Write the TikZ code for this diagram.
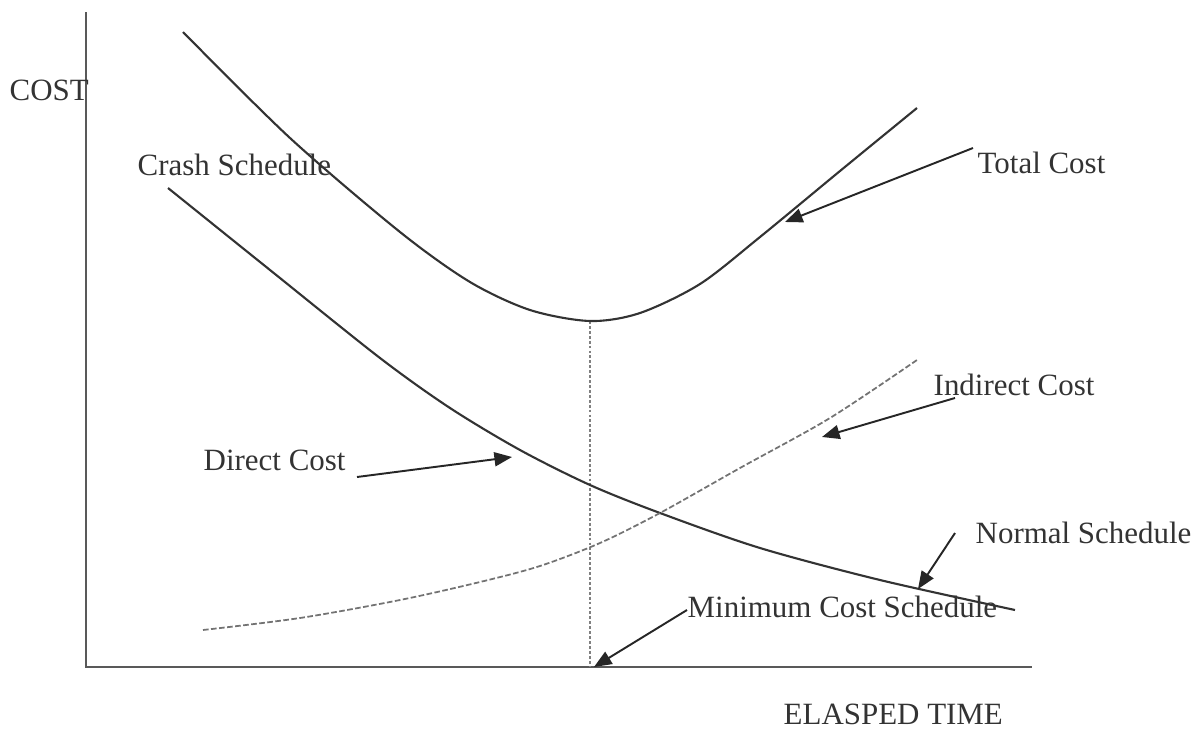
\documentclass[tikz,border=0pt]{standalone}
\usepackage{fontspec}
\setmainfont{Liberation Serif}
\usetikzlibrary{arrows.meta}
\begin{document}
\begin{tikzpicture}[x=0.01cm,y=-0.01cm,
  every node/.style={inner sep=0pt,text=black!80,font=\fontsize{8.8}{10.5}\selectfont},
  axisline/.style={draw=black!65,line width=0.65pt},
  costcurve/.style={draw=black!80,line width=0.6pt},
  indirectcurve/.style={draw=black!55,line width=0.5pt,dash pattern=on 1.6pt off 0.7pt},
  mincostline/.style={draw=black!50,line width=0.5pt,dash pattern=on 0.8pt off 0.6pt},
  pointer/.style={draw=black!85,line width=0.55pt,-{Triangle[length=5pt,width=4pt]}}]
\useasboundingbox (0,0) rectangle (1202,730);

% axes
\coordinate (origin) at (86,667);
\coordinate (ytop) at (86,12);
\coordinate (xend) at (1032,667);
\draw[axisline] (ytop) -- (origin) -- (xend);

% vertical line at the minimum of total cost
\coordinate (tcmin) at (590,321);
\coordinate (tcfoot) at (590,667);
\draw[mincostline] (tcmin) -- (tcfoot);

% total cost curve
\draw[costcurve] plot[smooth] coordinates {(183,32) (290,138) (400,232) (470,282)
  (530,310) (590,321) (640,313) (700,284) (760,237) (840,171) (917,108)};

% direct cost curve
\draw[costcurve] plot[smooth] coordinates {(168,188) (270,270) (380,358) (450,408)
  (520,450) (590,485) (660,513) (760,548) (880,580) (1015,610)};

% indirect cost curve
\draw[indirectcurve] plot[smooth] coordinates {(203,630) (300,618) (400,600) (480,582)
  (540,566) (600,543) (660,513) (740,468) (830,418) (917,360)};

% labels
\node[anchor=west] (costlbl) at (9,90) {COST};
\node[anchor=west] (crash) at (137,165) {Crash Schedule};
\node[anchor=west] (total) at (977,163) {Total Cost};
\node[anchor=west] (indirect) at (933,385) {Indirect Cost};
\node[anchor=west] (direct) at (203,460) {Direct Cost};
\node[anchor=west] (normal) at (975,533) {Normal Schedule};
\node[anchor=west] (mincost) at (687,607) {Minimum Cost Schedule};
\node[anchor=west] (timelbl) at (783,714) {ELASPED TIME};

% pointer arrows
\coordinate (totalTail) at (973,148);
\coordinate (totalTip) at (785,222);
\coordinate (indirectTail) at (955,398);
\coordinate (indirectTip) at (822,437);
\coordinate (directTail) at (357,477);
\coordinate (directTip) at (512,457);
\coordinate (normalTail) at (955,533);
\coordinate (normalTip) at (918,589);
\coordinate (mincostTail) at (687,610);
\coordinate (mincostTip) at (594,667);
\draw[pointer] (totalTail) -- (totalTip);
\draw[pointer] (indirectTail) -- (indirectTip);
\draw[pointer] (directTail) -- (directTip);
\draw[pointer] (normalTail) -- (normalTip);
\draw[pointer] (mincostTail) -- (mincostTip);
\end{tikzpicture}
\end{document}
